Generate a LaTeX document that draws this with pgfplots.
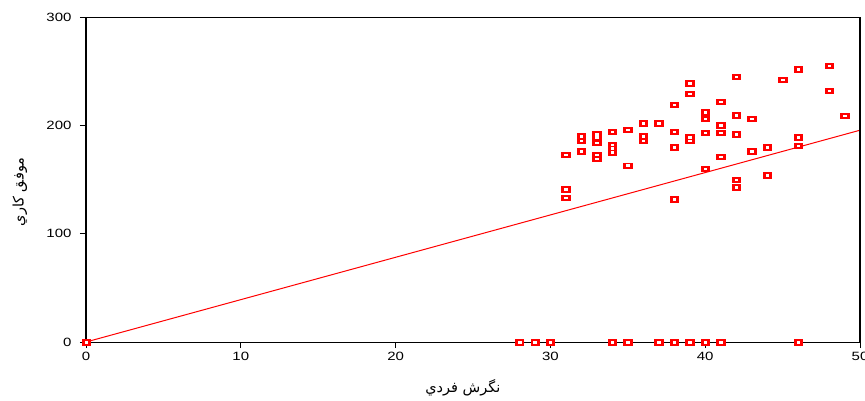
\documentclass[border=0pt]{standalone}
\usepackage{fontspec}
\setmainfont[FakeStretch=1.25]{Liberation Sans}
\newfontfamily\arabicfont[Script=Arabic]{DejaVu Sans}
\TeXXeTstate=1
\usepackage{pgfplots}
\usepackage{pgfplotstable}
\pgfplotsset{compat=1.18}

\pgfplotstableread{
x y
0 0
28 0
29 0
30 0
34 0
35 0
37 0
38 0
39 0
40 0
41 0
46 0
31 173
31 141
31 133
32 190
32 186
32 176
33 192
33 189
33 184
33 173
33 169
34 194
34 182
34 179
34 175
35 196
35 163
36 202
36 190
36 186
37 202
38 219
38 194
38 180
38 132
39 239
39 229
39 189
39 186
40 212
40 206
40 193
40 160
41 222
41 200
41 193
41 171
42 245
42 210
42 209
42 192
42 150
42 143
43 206
43 176
44 180
44 154
45 242
46 252
46 189
46 181
48 255
48 232
49 209
}\scatterdata

\begin{document}
\begin{tikzpicture}[x=1pt,y=1pt]
\useasboundingbox (0,0) rectangle (865,400);
\begin{axis}[
  at={(86pt,58pt)}, anchor=south west,
  scale only axis, width=774pt, height=325pt,
  xmin=0, xmax=50, ymin=0, ymax=300,
  xtick={0,10,20,30,40,50}, ytick={0,100,200,300},
  xtick pos=bottom, ytick pos=left,
  tick align=outside, major tick length=6pt,
  tick style={black, line width=0.8pt},
  axis line style={black, line width=0.9pt},
  clip=false,
  /pgf/number format/assume math mode=true,
  ticklabel style={font=\fontsize{12}{14}\selectfont},
  yticklabel style={xshift=-5pt},
  xticklabel style={yshift=-1pt},
  xlabel={\arabicfont\fontsize{14.5}{16}\selectfont\beginR نگرش فردي\endR},
  ylabel={\arabicfont\fontsize{14.5}{16}\selectfont\beginR موفق كاري\endR},
  xlabel style={at={(axis description cs:0.487,-0.1415)}, anchor=center},
  ylabel style={at={(axis description cs:-0.0853,0.4615)}, anchor=center},
]
\addplot[red, line width=1pt, no marks] coordinates {(0,0) (50,195.5)};
\addplot[red, only marks, mark=square*, mark size=2.7pt,
  mark options={draw=none, fill=red, xscale=1.55}]
  table[x=x,y=y] {\scatterdata};
\addplot[white, only marks, mark=square*, mark size=0.75pt,
  mark options={draw=none, fill=white, xscale=1.7}]
  table[x=x,y=y] {\scatterdata};
\draw[black, line width=2.6pt] (rel axis cs:0,0) -- (rel axis cs:0,1);
\draw[black, line width=2.6pt] (rel axis cs:1,0) -- (rel axis cs:1,1);
\end{axis}
\end{tikzpicture}
\end{document}
